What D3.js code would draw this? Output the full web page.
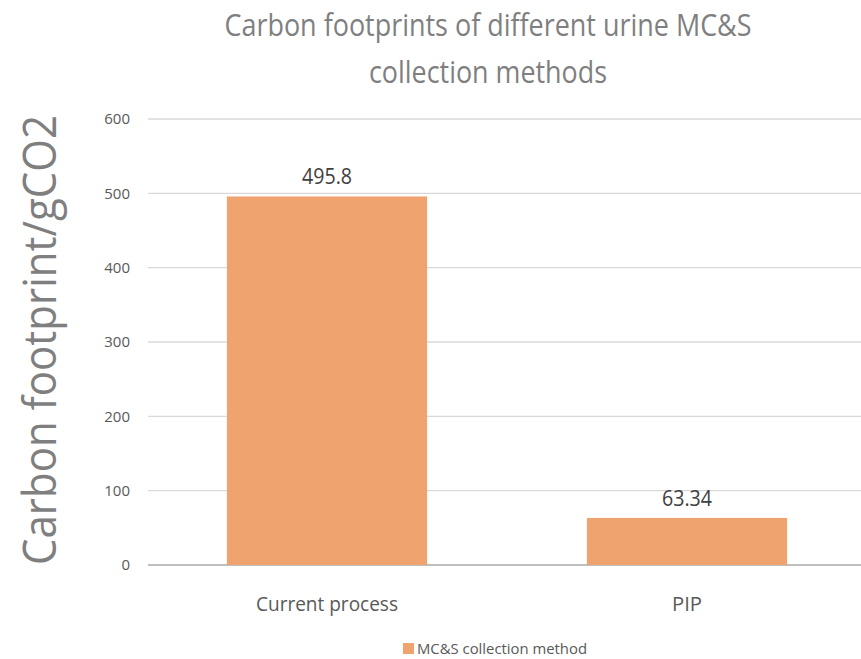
<!DOCTYPE html>
<html>
<head>
<meta charset="utf-8">
<script src="https://cdn.jsdelivr.net/npm/d3@7"></script>
<style>
  body { margin: 0; background: #fff; }
  text { font-family: "Open Sans", sans-serif; }
</style>
</head>
<body>
<div id="chart"></div>
<script>
const categories = ["Current process", "PIP"];
const values = [495.8, 63.34];
const valueLabels = ["495.8", "63.34"];
const yTicks = [0, 100, 200, 300, 400, 500, 600];
const seriesName = "MC&S collection method";
const titleLines = ["Carbon footprints of different urine MC&S", "collection methods"];
const yTitle = "Carbon footprint/gCO2";

const W = 861, H = 659;
const margin = { top: 119, right: -6, bottom: 94, left: 147 };

const svg = d3.select("#chart").append("svg")
  .attr("width", W)
  .attr("height", H);

const x = d3.scaleBand()
  .domain(categories)
  .range([margin.left, W - margin.right])
  .paddingInner(0.444)
  .paddingOuter(0.222);

const y = d3.scaleLinear()
  .domain([0, 600])
  .range([H - margin.bottom, margin.top]);

// gridlines
svg.append("g")
  .selectAll("line")
  .data(yTicks)
  .enter()
  .append("line")
  .attr("x1", margin.left + 1)
  .attr("x2", W)
  .attr("y1", d => y(d))
  .attr("y2", d => y(d))
  .attr("stroke", d => d === 0 ? "#bfbfbf" : "#d9d9d9")
  .attr("stroke-width", d => d === 0 ? 2 : 1.3);

// y tick labels
svg.append("g")
  .selectAll("text")
  .data(yTicks)
  .enter()
  .append("text")
  .attr("x", 130)
  .attr("y", d => y(d))
  .attr("dy", "0.35em")
  .attr("text-anchor", "end")
  .attr("fill", "#595959")
  .attr("font-size", 15)
  .text(d => d);

// bars
svg.append("g")
  .selectAll("rect")
  .data(values)
  .enter()
  .append("rect")
  .attr("x", (d, i) => x(categories[i]))
  .attr("y", d => y(d))
  .attr("width", x.bandwidth())
  .attr("height", d => y(0) - y(d))
  .attr("fill", "#efa46f");

// data labels
svg.append("g")
  .selectAll("text")
  .data(values)
  .enter()
  .append("text")
  .attr("x", (d, i) => x(categories[i]) + x.bandwidth() / 2)
  .attr("y", d => y(d) - 12)
  .attr("text-anchor", "middle")
  .attr("fill", "#404040")
  .attr("font-size", 21)
  .attr("textLength", 50)
  .attr("lengthAdjust", "spacingAndGlyphs")
  .text((d, i) => valueLabels[i]);

// x labels
svg.append("g")
  .selectAll("text")
  .data(categories)
  .enter()
  .append("text")
  .attr("x", d => x(d) + x.bandwidth() / 2)
  .attr("y", 611)
  .attr("text-anchor", "middle")
  .attr("fill", "#595959")
  .attr("font-size", 20)
  .attr("textLength", (d, i) => i === 0 ? 142 : 30)
  .attr("lengthAdjust", "spacingAndGlyphs")
  .text(d => d);

// title
svg.append("text")
  .attr("text-anchor", "middle")
  .attr("fill", "#7f7f7f")
  .attr("font-size", 31)
  .selectAll("tspan")
  .data(titleLines)
  .enter()
  .append("tspan")
  .attr("x", 488)
  .attr("y", (d, i) => 36 + i * 47)
  .attr("textLength", (d, i) => i === 0 ? 527 : 238)
  .attr("lengthAdjust", "spacingAndGlyphs")
  .text(d => d);

// y axis title
svg.append("text")
  .attr("transform", "translate(56,340) rotate(-90)")
  .attr("text-anchor", "middle")
  .attr("fill", "#7f7f7f")
  .attr("font-size", 45)
  .attr("textLength", 450)
  .attr("lengthAdjust", "spacingAndGlyphs")
  .text(yTitle);

// legend
const legend = svg.append("g").attr("transform", "translate(403,643)");
legend.append("rect")
  .attr("width", 11)
  .attr("height", 11)
  .attr("fill", "#efa46f");
legend.append("text")
  .attr("x", 14)
  .attr("y", 11)
  .attr("fill", "#595959")
  .attr("font-size", 15)
  .attr("textLength", 170)
  .attr("lengthAdjust", "spacingAndGlyphs")
  .text(seriesName);
</script>
</body>
</html>
